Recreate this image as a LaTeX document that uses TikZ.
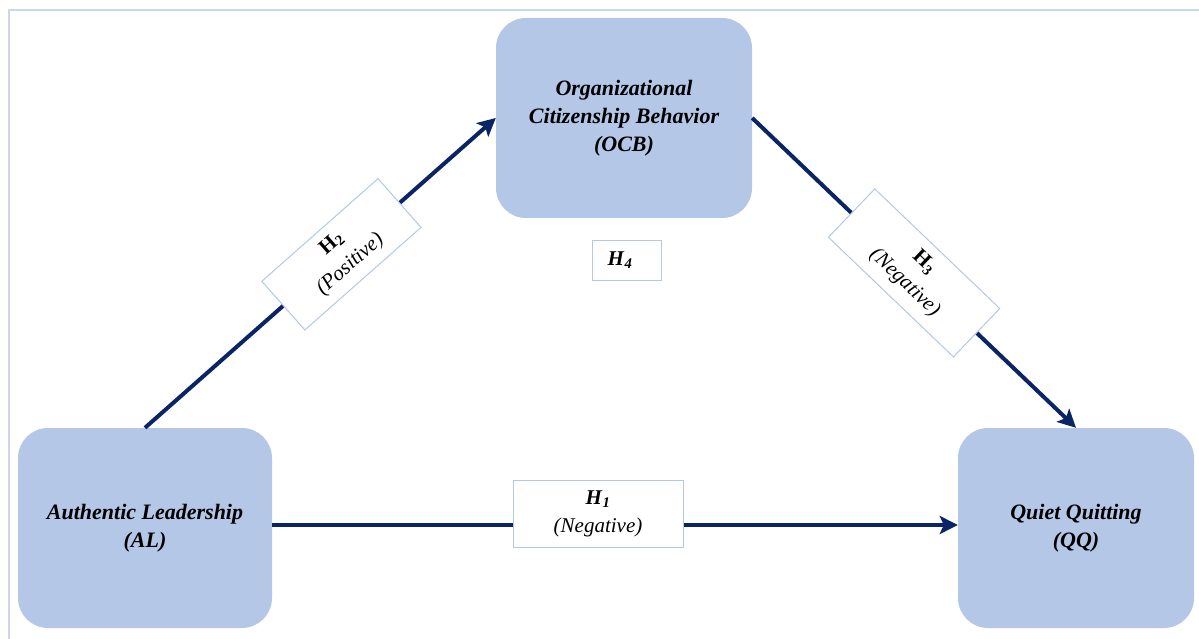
\documentclass[tikz,border=0pt]{standalone}
\usepackage{fontspec}
\setmainfont{Liberation Serif}
\usepackage{xcolor}
\definecolor{boxColor}{HTML}{B4C7E7}
\definecolor{linkColor}{HTML}{0A2466}
\definecolor{frameColor}{HTML}{C9D6EE}
\usepackage{tikz}
\usetikzlibrary{positioning, arrows.meta}

\tikzset{
  construct/.style={fill=boxColor, rounded corners=30pt, minimum height=200pt,
    align=center, font=\fontsize{22}{28}\selectfont\bfseries\itshape},
  hyplabel/.style={draw=boxColor, fill=white, text=black, line width=1pt, align=center,
    font=\fontsize{21}{28}\selectfont},
  link/.style={linkColor, line width=4pt,
    -{Stealth[length=18pt, width=18pt, inset=4pt]}}
}

\begin{document}
\begin{tikzpicture}[x=1pt, y=-1pt]
  \useasboundingbox (0,0) rectangle (1199,639);
  \draw[frameColor, line width=1.5pt] (9,639) -- (9,10) -- (1199,10);

  % the three constructs
  \node[construct, minimum width=254pt] (al) at (145,528) {Authentic Leadership\\(AL)};
  \node[construct, minimum width=256pt] (ocb) at (624,118) {Organizational\\Citizenship Behavior\\(OCB)};
  \node[construct, minimum width=236pt] (qq) at (1076,528) {Quiet Quitting\\(QQ)};

  % hypotheses
  \draw[link] (al.east |- 0,525) -- (qq.west |- 0,525);
  \draw[link] (al.north) -- (ocb.west)
    node[hyplabel, sloped, pos=0.56, minimum width=155pt, minimum height=65pt] (h2)
    {\textbf{H\textsubscript{2}}\\\textit{(Positive)}};
  \draw[link] (ocb.east) -- (qq.north)
    node[hyplabel, sloped, pos=0.5, minimum width=173pt, minimum height=67pt] (h3)
    {\textbf{H\textsubscript{3}}\\\textit{(Negative)}};

  \node[hyplabel, minimum width=170pt, minimum height=67pt] (h1) at (598,514)
    {\textbf{\textit{H}\textsubscript{\textit{1}}}\\\textit{(Negative)}};
  \node[hyplabel, minimum width=69pt, minimum height=40pt] (h4) at (627,260)
    {\textbf{\textit{H}\textsubscript{\textit{4}}}\hspace{14pt}};
\end{tikzpicture}
\end{document}
